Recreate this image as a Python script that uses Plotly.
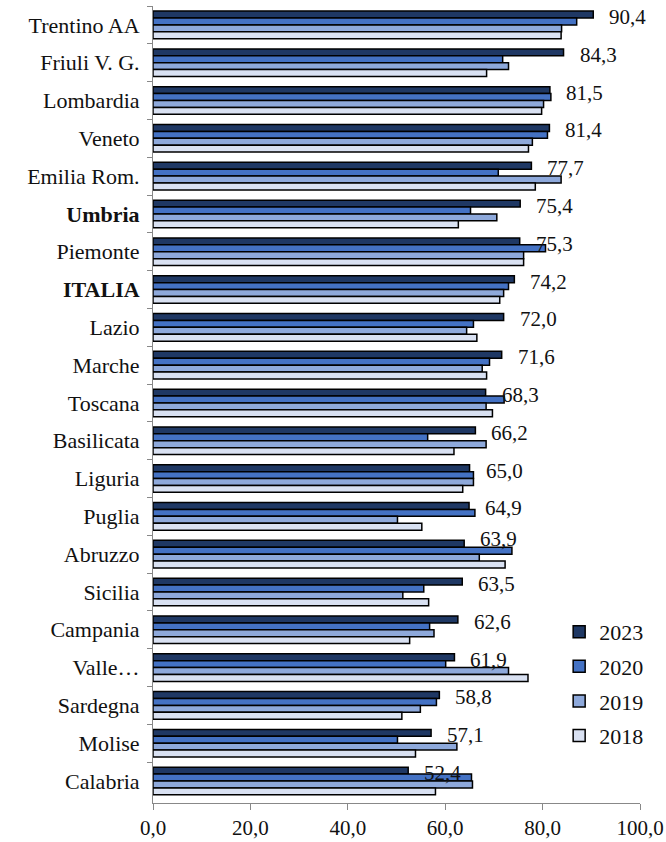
import plotly.graph_objects as go

regions = ["Trentino AA", "Friuli V. G.", "Lombardia", "Veneto", "Emilia Rom.",
           "<b>Umbria</b>", "Piemonte", "<b>ITALIA</b>", "Lazio", "Marche", "Toscana",
           "Basilicata", "Liguria", "Puglia", "Abruzzo", "Sicilia", "Campania",
           "Valle…", "Sardegna", "Molise", "Calabria"]

v2023 = [90.4, 84.3, 81.5, 81.4, 77.7, 75.4, 75.3, 74.2, 72.0, 71.6, 68.3,
         66.2, 65.0, 64.9, 63.9, 63.5, 62.6, 61.9, 58.8, 57.1, 52.4]
v2020 = [87.0, 71.8, 81.7, 81.0, 70.9, 65.2, 80.6, 73.0, 65.8, 69.1, 72.1,
         56.4, 65.8, 66.1, 73.7, 55.6, 56.8, 60.1, 58.2, 50.2, 65.4]
v2019 = [83.9, 73.0, 80.2, 77.9, 83.8, 70.6, 76.1, 72.0, 64.4, 67.6, 68.4,
         68.4, 65.8, 50.2, 67.0, 51.3, 57.7, 73.0, 54.9, 62.4, 65.6]
v2018 = [83.8, 68.5, 79.8, 77.1, 78.5, 62.7, 76.1, 71.2, 66.5, 68.5, 69.7,
         61.8, 63.6, 55.2, 72.3, 56.6, 52.7, 77.0, 51.1, 53.9, 58.0]

years = ["2023", "2020", "2019", "2018"]
colors = ["#1F3864", "#4472C4", "#8EA9DB", "#D9E1F2"]
series = [v2023, v2020, v2019, v2018]

FONT = "Liberation Serif"
TEXT = "#111111"

fig = go.Figure()
for name, vals, col in zip(years, series, colors):
    fig.add_trace(go.Bar(
        y=regions, x=vals, name=name, orientation="h", legendgroup=name,
        marker=dict(color=col, line=dict(color="black", width=1.5)),
    ))

# value labels for the latest year, placed beyond the end of each 2023 bar;
# the Abruzzo label is lifted a little to clear its longer 2020 bar
label_lift = {"Abruzzo": 7}
for r, v in zip(regions, v2023):
    fig.add_annotation(
        x=v, y=r, text=f"{v:.1f}".replace(".", ","),
        xref="x", yref="y", xanchor="left", yanchor="middle",
        xshift=14, yshift=8 + label_lift.get(r, 0), showarrow=False,
        font=dict(family=FONT, size=21, color=TEXT),
    )

fig.update_layout(
    width=666, height=842,
    margin=dict(l=153, r=26, t=6, b=39),
    paper_bgcolor="white", plot_bgcolor="white",
    barmode="group", bargap=0.27, bargroupgap=0,
    font=dict(family=FONT, size=21, color=TEXT),
    legend=dict(
        x=0.834, y=0.241, xanchor="left", yanchor="top",
        font=dict(family=FONT, size=22, color=TEXT),
        tracegroupgap=3, itemwidth=30, bgcolor="rgba(0,0,0,0)",
    ),
    showlegend=True,
)
fig.update_xaxes(
    range=[0, 100], tickvals=[0, 20, 40, 60, 80, 100],
    ticktext=["0,0", "20,0", "40,0", "60,0", "80,0", "100,0"],
    showline=True, linecolor="#888", linewidth=1,
    ticks="outside", ticklen=6, tickcolor="#888",
    showgrid=False, zeroline=False, ticklabelstandoff=0, automargin=False,
    tickfont=dict(family=FONT, size=21, color=TEXT),
)
fig.update_yaxes(
    autorange="reversed", showline=True, linecolor="#888", linewidth=1,
    ticks="outside", ticklen=5, tickcolor="#888", tickson="boundaries",
    showgrid=False, ticklabelstandoff=8, automargin=False,
    tickfont=dict(family=FONT, size=22, color=TEXT),
)

fig.write_html("out.html")
